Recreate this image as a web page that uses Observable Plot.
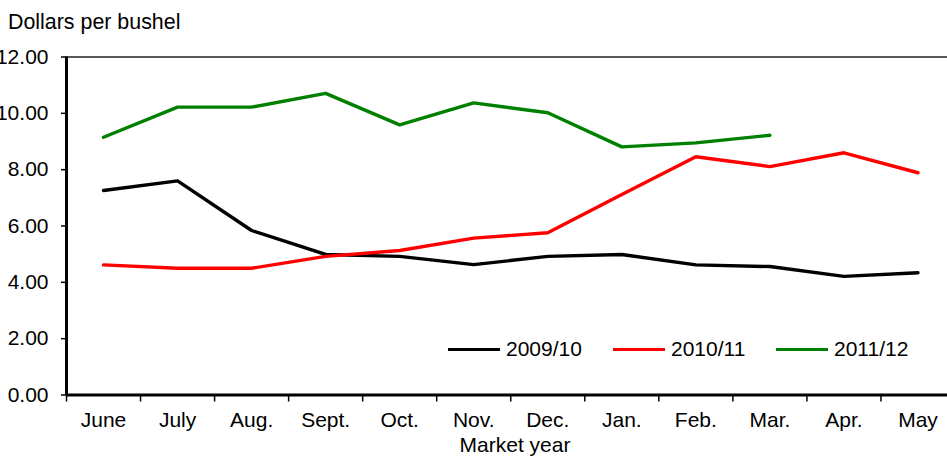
<!DOCTYPE html>
<html>
<head>
<meta charset="utf-8">
<script src="https://cdn.jsdelivr.net/npm/d3@7"></script>
<script src="https://cdn.jsdelivr.net/npm/@observablehq/plot@0.6"></script>
<style>
  body { margin: 0; background: #fff; overflow: hidden; font-family: Arial, "Liberation Sans", sans-serif; }
  #wrap { position: relative; width: 947px; height: 456px; overflow: hidden; }
  #chart svg { max-width: none !important; display: block; }
  .title { position: absolute; left: 8px; top: 12px; font-size: 21.4px; line-height: 21px; color: #000; }
  .xlabel { position: absolute; left: 415px; width: 200px; text-align: center; top: 434px; font-size: 21px; line-height: 21px; color: #000; }
  .item { position: absolute; top: 338px; height: 21px; font-size: 21px; line-height: 21px; color: #000; white-space: nowrap; }
  .item span { display: inline-block; width: 52px; height: 3.3px; vertical-align: middle; margin-right: 6px; position: relative; top: -1px; }
</style>
</head>
<body>
<div id="wrap">
  <div id="chart"></div>
  <div class="title">Dollars per bushel</div>
  <div class="xlabel">Market year</div>
</div>
<script>
const months = ["June", "July", "Aug.", "Sept.", "Oct.", "Nov.", "Dec.", "Jan.", "Feb.", "Mar.", "Apr.", "May"];
const years = ["2009/10", "2010/11", "2011/12"];
const colors = ["#000000", "#ff0000", "#008000"];
const price0910 = [7.26, 7.60, 5.84, 4.99, 4.92, 4.63, 4.92, 4.99, 4.62, 4.56, 4.21, 4.34];
const price1011 = [4.62, 4.50, 4.50, 4.92, 5.13, 5.57, 5.76, 7.12, 8.46, 8.11, 8.60, 7.89];
const price1112 = [9.15, 10.22, 10.22, 10.71, 9.59, 10.37, 10.02, 8.81, 8.95, 9.22];
const yTicks = [0, 2, 4, 6, 8, 10, 12];

const series = [price0910, price1011, price1112];
const data = series.flatMap((vals, k) =>
  vals.map((v, i) => ({i, month: months[i], year: years[k], price: v})));

// band edges for the x ticks
const edges = months.map((m, i) => i - 0.5).concat([months.length - 0.5]);

const chart = Plot.plot({
  width: 947,
  height: 456,
  marginLeft: 66,
  marginRight: 0,
  marginTop: 56.5,
  marginBottom: 61.5,
  style: {fontFamily: "Arial, 'Liberation Sans', sans-serif", fontSize: "21px", color: "#000", background: "#fff"},
  x: {domain: [-0.5, 11.5], range: [66, 954.5]},
  y: {domain: [0, 12]},
  color: {domain: years, range: colors},
  marks: [
    Plot.ruleY([12], {stroke: "#222", strokeWidth: 1.5}),
    Plot.line(data, {x: "i", y: "price", z: "year", stroke: "year", strokeWidth: 3.4}),
    Plot.ruleX([-0.5], {stroke: "#000", strokeWidth: 3}),
    Plot.ruleY([0], {stroke: "#000", strokeWidth: 3}),
    Plot.axisY(yTicks, {tickFormat: d3.format(".2f"), tickSize: 5, tickPadding: 13, fontSize: 21, label: null, strokeWidth: 1.5}),
    Plot.axisX(edges, {tickSize: 7, tickFormat: () => "", label: null, strokeWidth: 1.5}),
    Plot.axisX(months.map((m, i) => i), {
      tickSize: 0, tickPadding: 17, tickFormat: i => months[i], fontSize: 21, label: null
    })
  ]
});

d3.select("#chart").append(() => chart);

const legendLeft = [448, 613, 776];
const wrap = d3.select("#wrap");
years.forEach((y, k) => {
  const item = wrap.append("div").attr("class", "item").style("left", legendLeft[k] + "px");
  item.append("span").style("background", colors[k]);
  item.append("text").text(y);
});
</script>
</body>
</html>
